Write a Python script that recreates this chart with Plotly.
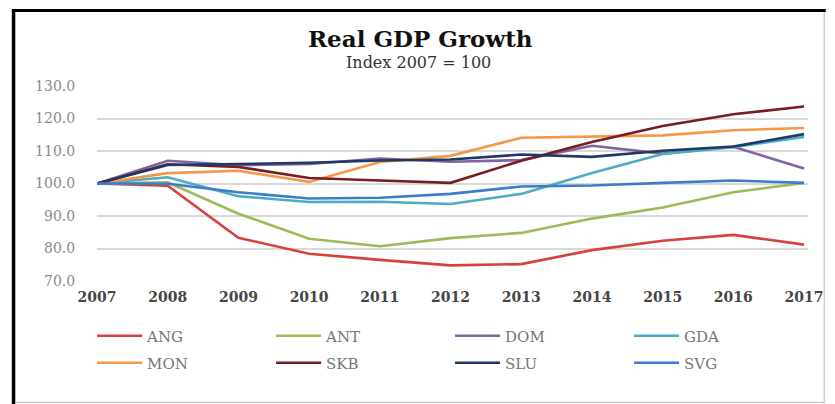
import plotly.graph_objects as go

# Real GDP index, 2007 = 100
years = [2007, 2008, 2009, 2010, 2011, 2012, 2013, 2014, 2015, 2016, 2017]

ang = [100.0, 99.3, 83.3, 78.4, 76.5, 74.8, 75.2, 79.5, 82.4, 84.2, 81.2]
ant = [100.0, 100.4, 90.7, 83.0, 80.7, 83.2, 84.8, 89.2, 92.6, 97.3, 100.2]
dom = [100.0, 107.0, 105.6, 106.0, 107.7, 106.7, 107.2, 111.6, 109.2, 111.3, 104.6]
gda = [100.0, 101.9, 96.1, 94.3, 94.4, 93.7, 96.8, 103.2, 109.1, 111.2, 114.3]
mon = [100.0, 103.2, 103.9, 100.5, 106.6, 108.5, 114.1, 114.5, 114.8, 116.4, 117.1]
skb = [100.0, 105.9, 105.1, 101.7, 100.9, 100.2, 107.0, 112.8, 117.7, 121.3, 123.7]
slu = [100.0, 105.7, 106.0, 106.4, 107.1, 107.4, 108.9, 108.2, 110.1, 111.4, 115.2]
svg = [100.0, 99.9, 97.3, 95.4, 95.6, 96.8, 99.1, 99.4, 100.2, 100.9, 100.2]

names = ["ANG", "ANT", "DOM", "GDA", "MON", "SKB", "SLU", "SVG"]
series = [ang, ant, dom, gda, mon, skb, slu, svg]
colors = ["#D8403B", "#9BBB59", "#8064A2", "#4BACC6",
          "#F79646", "#771C1F", "#1F3864", "#3D7CCB"]

y_ticks = [70, 80, 90, 100, 110, 120, 130]

SERIF = "DejaVu Serif"

# plot area in pixels (835 x 404 canvas)
L, R, T, B = 97, 817, 86, 281
W, H = 835, 404
pw, ph = R - L, B - T


def px(x):
    return (x - L) / pw


def py(y):
    return (B - y) / ph


fig = go.Figure()
for i, (name, vals, col) in enumerate(zip(names, series, colors)):
    fig.add_trace(go.Scatter(
        x=years, y=vals, name=name, mode="lines",
        line=dict(color=col, width=2.6),
        legend="legend" if i < 4 else "legend2",
        hoverinfo="skip",
    ))

legend_common = dict(
    orientation="h", xanchor="left", yanchor="middle",
    font=dict(family=SERIF, size=15, color="#767676"),
    entrywidth=119, entrywidthmode="pixels", itemwidth=45,
    bgcolor="rgba(0,0,0,0)", borderwidth=0,
)

fig.update_layout(
    width=W, height=H,
    margin=dict(l=L, r=W - R, t=T, b=H - B, pad=0),
    paper_bgcolor="white", plot_bgcolor="white",
    showlegend=True,
    legend=dict(x=px(92), y=py(336), **legend_common),
    legend2=dict(x=px(92), y=py(363), **legend_common),
    xaxis=dict(
        range=[2007, 2017 + 4 / 71.6], tickmode="array", tickvals=years,
        ticktext=[str(y) for y in years],
        showgrid=False, zeroline=False, showline=False, ticks="",
        tickfont=dict(family=SERIF, size=14, color="#454545", weight="bold"),
        ticklabelstandoff=6,
    ),
    yaxis=dict(
        range=[70, 130], tickmode="array", tickvals=y_ticks,
        ticktext=[f"{v:.1f}" for v in y_ticks],
        showgrid=True, gridcolor="#d9d9d9", gridwidth=1.5,
        zeroline=False, showline=False,
        ticks="outside", ticklen=18, tickcolor="rgba(0,0,0,0)",
        tickfont=dict(family=SERIF, size=14, color="#8a8a8a"),
    ),
    annotations=[
        dict(text="<b>Real GDP Growth</b>", x=px(425), y=py(38),
             xref="paper", yref="paper", showarrow=False,
             xanchor="center", yanchor="middle",
             font=dict(family=SERIF, size=23, color="#111111")),
        dict(text="Index 2007 = 100", x=px(423), y=py(62),
             xref="paper", yref="paper", showarrow=False,
             xanchor="center", yanchor="middle",
             font=dict(family=SERIF, size=16, color="#333333")),
    ],
    shapes=[
        # outer frame: heavy black left and top edges, light right and bottom
        dict(type="line", xref="paper", yref="paper",
             x0=px(12.5), x1=px(12.5), y0=py(9), y1=py(404),
             line=dict(color="#000000", width=3.5)),
        dict(type="line", xref="paper", yref="paper",
             x0=px(11), x1=px(835), y0=py(10.5), y1=py(10.5),
             line=dict(color="#000000", width=3)),
        dict(type="line", xref="paper", yref="paper",
             x0=px(833.5), x1=px(833.5), y0=py(12), y1=py(402),
             line=dict(color="#d0d0d0", width=1.5)),
        dict(type="line", xref="paper", yref="paper",
             x0=px(14), x1=px(834), y0=py(402.5), y1=py(402.5),
             line=dict(color="#c8c8c8", width=1.5)),
    ],
)

fig.write_html("out.html")
